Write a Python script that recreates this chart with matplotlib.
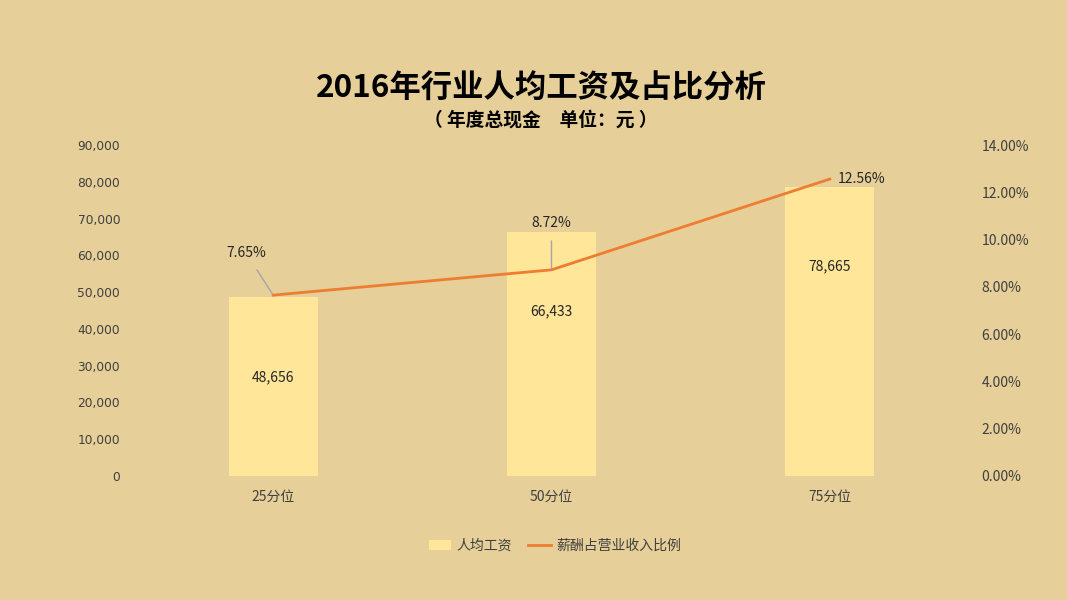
import matplotlib
matplotlib.use("Agg")
import matplotlib.pyplot as plt
from matplotlib.patches import Patch
from matplotlib.lines import Line2D
from matplotlib.ticker import FuncFormatter, MultipleLocator

plt.rcParams["font.family"] = ["Noto Sans CJK SC", "DejaVu Sans"]

categories = ["25分位", "50分位", "75分位"]
salary = [48656, 66433, 78665]
ratio = [7.65, 8.72, 12.56]

BG = "#E6CF98"
BAR = "#FFE699"
LINE = "#ED7D31"
TXT = "#404040"

fig = plt.figure(figsize=(10.67, 6.0), dpi=100, facecolor=BG)
ax = fig.add_axes([0.1256, 0.2067, 0.7825, 0.5516])
ax.set_facecolor("none")
ax2 = ax.twinx()

x = list(range(len(categories)))
bars = ax.bar(x, salary, width=0.32, color=BAR, zorder=2)
ax.set_xlim(-0.5, len(categories) - 0.5)
ax.set_ylim(0, 90000)
ax.yaxis.set_major_locator(MultipleLocator(10000))
ax.yaxis.set_major_formatter(FuncFormatter(lambda v, p: f"{int(v):,}"))
ax.set_xticks(x)
ax.set_xticklabels(categories)

ax2.plot(x, ratio, color=LINE, lw=2, zorder=3)
ax2.set_ylim(0, 14)
ax2.yaxis.set_major_locator(MultipleLocator(2))
ax2.yaxis.set_major_formatter(FuncFormatter(lambda v, p: f"{v:.2f}%"))

for a in (ax, ax2):
    for s in a.spines.values():
        s.set_visible(False)
    a.tick_params(length=0, colors=TXT, labelsize=10)
ax.tick_params(axis="y", pad=10, labelsize=8.8)
for lbl in ax.get_yticklabels():
    lbl.set_family("DejaVu Sans")
ax.tick_params(axis="x", pad=10)
ax2.tick_params(axis="y", pad=9)

# value labels inside bars
for xi, v in zip(x, salary):
    ax.annotate(f"{v:,}", (xi, v), xytext=(0, -80), textcoords="offset pixels",
                ha="center", va="center", fontsize=10, color="#262626")

# percentage labels with leader lines
offsets = [(-27, 42), (0, 47), (32, 0)]
for xi, r, off in zip(x, ratio, offsets):
    if off[1] > 0:
        ax2.annotate(f"{r:.2f}%", (xi, r), xytext=off, textcoords="offset pixels",
                     ha="center", va="center", fontsize=10, color="#262626",
                     arrowprops=dict(arrowstyle="-", color="#A6A6A6", lw=1,
                                     shrinkA=6, shrinkB=1))
    else:
        ax2.annotate(f"{r:.2f}%", (xi, r), xytext=off, textcoords="offset pixels",
                     ha="center", va="center", fontsize=10, color="#262626")

fig.text(0.507, 0.853, "2016年行业人均工资及占比分析", ha="center", va="center",
         fontsize=22.6, fontweight="heavy", color="black")
fig.text(0.507, 0.800, "（ 年度总现金　单位：元 ）", ha="center", va="center",
         fontsize=13.5, fontweight="heavy", color="black")

handles = [Patch(facecolor=BAR, edgecolor="none"),
           Line2D([0], [0], color=LINE, lw=2)]
fig.legend(handles, ["人均工资", "薪酬占营业收入比例"], loc="center",
           bbox_to_anchor=(0.52, 0.09), ncol=2, frameon=False, fontsize=10,
           labelcolor=TXT, handlelength=1.6, columnspacing=1.2, handletextpad=0.4)

fig.savefig("out.png", dpi=100, facecolor=BG)
